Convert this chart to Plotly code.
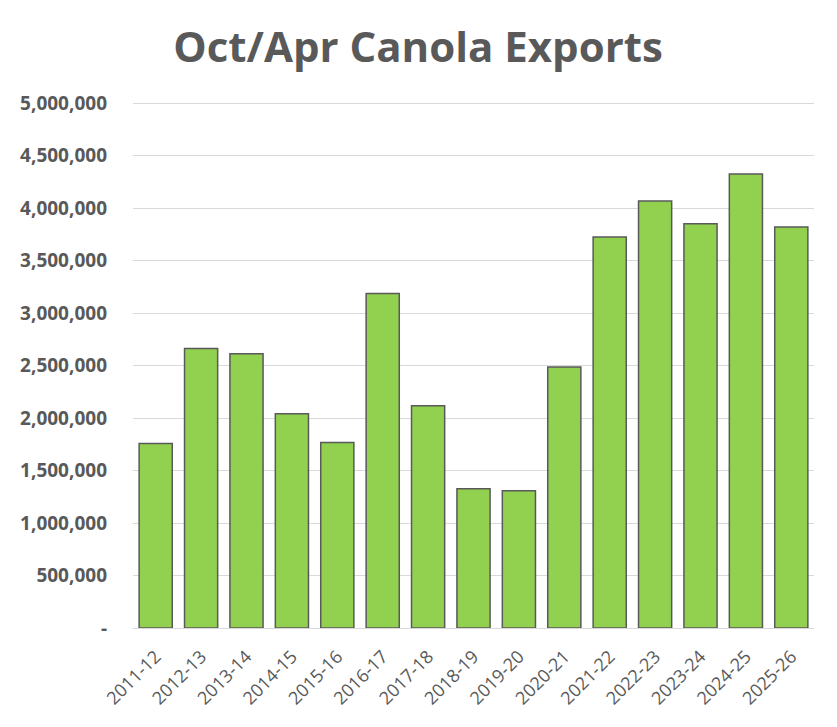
import plotly.graph_objects as go

# Oct/Apr canola exports by crop year
seasons = ['2011-12', '2012-13', '2013-14', '2014-15', '2015-16', '2016-17',
           '2017-18', '2018-19', '2019-20', '2020-21', '2021-22', '2022-23',
           '2023-24', '2024-25', '2025-26']
exports = [1757000, 2661000, 2611000, 2040000, 1767000, 3185000,
           2116000, 1326000, 1307000, 2487000, 3724000, 4067000,
           3851000, 4324000, 3819000]

tick_vals = [0, 500000, 1000000, 1500000, 2000000, 2500000,
             3000000, 3500000, 4000000, 4500000, 5000000]
tick_text = ['-' if v == 0 else f'{v:,}' for v in tick_vals]

grey = '#595959'

fig = go.Figure(go.Bar(
    x=seasons,
    y=exports,
    marker=dict(color='#92D050', line=dict(color=grey, width=1.5)),
))

# the page body adds an 8px offset, so margins are shifted to compensate
fig.update_layout(
    width=837,
    height=727,
    title=dict(
        text='<b>Oct/Apr Canola Exports</b>',
        x=0.49,
        xanchor='center',
        y=0.946,
        yanchor='middle',
        font=dict(family='Open Sans', size=42, color=grey),
    ),
    margin=dict(l=125, r=31, t=94, b=107),
    bargap=0.27,
    plot_bgcolor='white',
    paper_bgcolor='white',
    showlegend=False,
    xaxis=dict(
        type='category',
        tickangle=-45,
        tickfont=dict(family='Open Sans', size=18, color=grey),
        showgrid=False,
        showline=True,
        linecolor='#D9D9D9',
        linewidth=1,
        ticks='',
        ticklabelstandoff=10,
        automargin=False,
    ),
    yaxis=dict(
        range=[0, 5010000],
        tickvals=tick_vals,
        ticktext=tick_text,
        tickfont=dict(family='Open Sans', size=19, color=grey, weight='bold'),
        gridcolor='#D9D9D9',
        gridwidth=1,
        zeroline=False,
        showline=False,
        ticks='',
        ticklabelstandoff=25,
        automargin=False,
    ),
)

fig.write_html('out.html')
